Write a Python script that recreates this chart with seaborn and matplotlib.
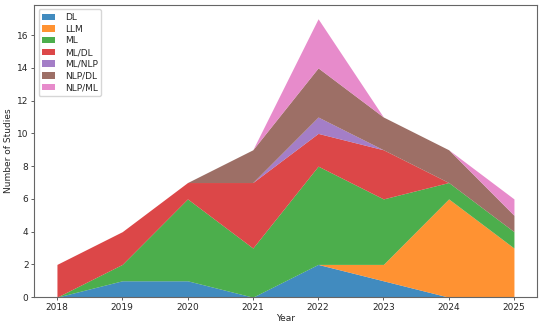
import matplotlib
matplotlib.use("Agg")
import matplotlib.pyplot as plt
import seaborn as sns
import numpy as np

years = [2018, 2019, 2020, 2021, 2022, 2023, 2024, 2025]
dl     = [0, 1, 1, 0, 2, 1, 0, 0]
llm    = [0, 0, 0, 0, 0, 1, 6, 3]
ml     = [0, 1, 5, 3, 6, 4, 1, 1]
ml_dl  = [2, 2, 1, 4, 2, 3, 0, 0]
ml_nlp = [0, 0, 0, 0, 1, 0, 0, 0]
nlp_dl = [0, 0, 0, 2, 3, 2, 2, 1]
nlp_ml = [0, 0, 0, 0, 3, 0, 0, 1]
labels = ["DL", "LLM", "ML", "ML/DL", "ML/NLP", "NLP/DL", "NLP/ML"]

sns.set_style("ticks")
plt.rcParams["font.family"] = ["DejaVu Sans"]
plt.rcParams["font.size"] = 6.5

fig, ax = plt.subplots(figsize=(5.5, 3.23), dpi=100)
colors = sns.color_palette("tab10", 7)
ax.stackplot(years, dl, llm, ml, ml_dl, ml_nlp, nlp_dl, nlp_ml,
             labels=labels, colors=colors, alpha=0.85, linewidth=0)
ax.set_xlabel("Year", fontsize=6.5, labelpad=2)
ax.set_ylabel("Number of Studies", fontsize=6.5, labelpad=3)
ax.tick_params(labelsize=6.5, length=2.5, width=0.6, pad=1.5, color="#444444")
ax.set_yticks(range(0, 17, 2))
ax.legend(loc="upper left", fontsize=6.5, labelspacing=0.3, handlelength=1.4,
          handletextpad=1.1, borderpad=0.4)
for s in ax.spines.values():
    s.set_color("#666666")
    s.set_linewidth(0.8)
fig.subplots_adjust(left=0.062, right=0.976, bottom=0.08, top=0.985)
fig.savefig("out.png", dpi=100)
